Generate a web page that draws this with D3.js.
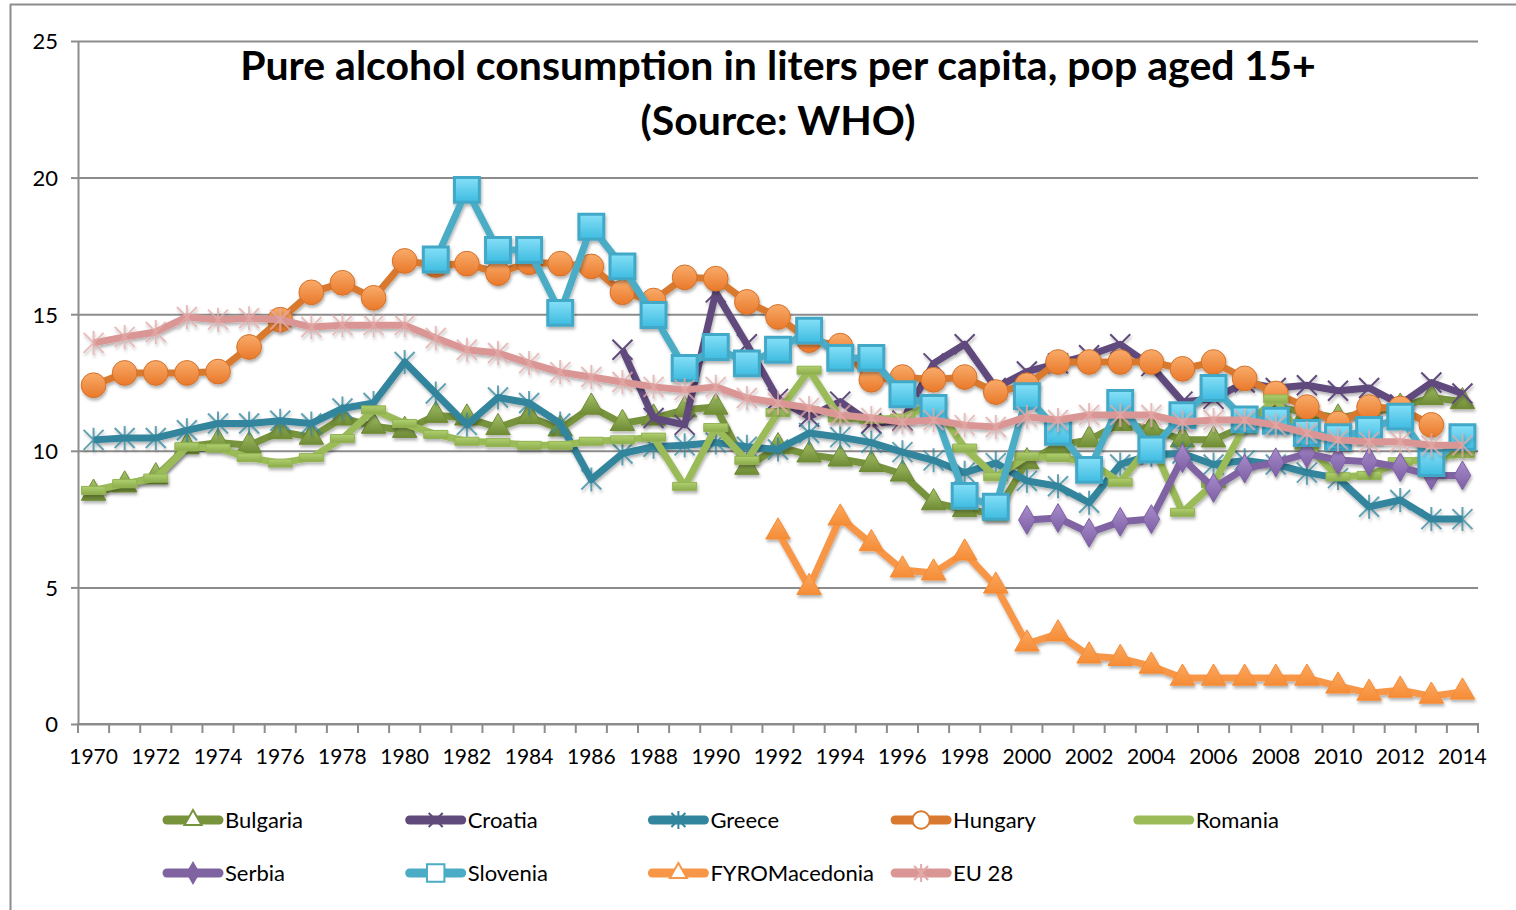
<!DOCTYPE html>
<html>
<head>
<meta charset="utf-8">
<script src="https://cdn.jsdelivr.net/npm/d3@7"></script>
<style>
body { margin: 0; background: #fff; }
text { font-family: Lato, "Open Sans", sans-serif; fill: #000; }
</style>
</head>
<body>
<script>
// data (1970..2014, null = no value)
var years = d3.range(1970, 2015);

var bulgaria = [8.45, 8.75, 9.05, 10.15, 10.3, 10.2, 10.7, 10.5, 11.2, 10.9,
  10.75, 11.3, 11.2, 10.85, 11.25, 10.8, 11.6, 11.0, 11.2, 11.5,
  11.6, 9.4, 10.15, 9.85, 9.7, 9.5, 9.15, 8.1, 7.85, 7.7,
  9.6, 10.2, 10.4, 11.0, 10.8, 10.4, 10.4, 10.9, 11.6, 11.4,
  11.2, 11.4, 11.6, 11.95, 11.8];
var croatia = [null, null, null, null, null, null, null, null, null, null,
  null, null, null, null, null, null, null, 13.7, 11.2, 10.95,
  15.8, 13.9, 11.9, 11.25, 11.8, 11.0, 11.1, 13.2, 13.9, 12.3,
  12.9, 13.2, 13.5, 13.9, 13.1, 11.8, 11.9, 12.5, 12.3, 12.4,
  12.2, 12.3, 11.7, 12.5, 12.1];
var greece = [10.4, 10.47, 10.47, 10.75, 11.0, 11.0, 11.1, 11.0, 11.55, 11.75,
  13.25, 12.1, 10.95, 11.95, 11.75, 11.0, 8.95, 9.9, 10.15, 10.2,
  10.3, 10.15, 10.05, 10.65, 10.5, 10.3, 9.95, 9.65, 9.2, 9.55,
  8.9, 8.7, 8.1, 9.5, 9.85, 9.9, 9.5, 9.65, 9.5, 9.2,
  9.0, 7.95, 8.2, 7.5, 7.5];
var hungary = [12.4, 12.85, 12.85, 12.85, 12.9, 13.8, 14.8, 15.8, 16.15, 15.6,
  16.95, 16.8, 16.85, 16.5, 16.9, 16.85, 16.75, 15.8, 15.5, 16.35,
  16.3, 15.45, 14.9, 14.05, 13.85, 12.6, 12.7, 12.6, 12.7, 12.15,
  12.4, 13.25, 13.25, 13.25, 13.25, 13.0, 13.25, 12.65, 12.1, 11.6,
  11.0, 11.6, 11.55, 10.95, null];
var romania = [8.55, 8.8, 9.0, 10.15, 10.1, 9.75, 9.55, 9.75, 10.45, 11.5,
  11.0, 10.6, 10.35, 10.3, 10.2, 10.2, 10.35, 10.4, 10.5, 8.7,
  10.85, 9.65, 11.4, 12.95, 11.2, 11.15, 11.2, 11.75, 10.1, 9.05,
  9.8, 9.75, 9.6, 8.85, 10.3, 7.75, 8.8, 10.9, 11.9, 10.2,
  9.05, 9.1, 9.6, 9.7, 9.9];
var serbia = [null, null, null, null, null, null, null, null, null, null,
  null, null, null, null, null, null, null, null, null, null,
  null, null, null, null, null, null, null, null, null, null,
  7.47, 7.54, 7.0, 7.4, 7.5, 9.73, 8.64, 9.35, 9.58, 9.9,
  9.66, 9.6, 9.4, 9.1, 9.1];
var slovenia = [null, null, null, null, null, null, null, null, null, null,
  null, 17.0, 19.55, 17.35, 17.35, 15.05, 18.2, 16.75, 14.97, 13.03,
  13.8, 13.2, 13.7, 14.4, 13.4, 13.4, 12.07, 11.57, 8.35, 7.95,
  12.0, 10.7, 9.3, 11.75, 10.05, 11.3, 12.3, 11.15, 11.1, 10.65,
  10.5, 10.76, 11.25, 9.55, 10.5];
var fyroMacedonia = [null, null, null, null, null, null, null, null, null, null,
  null, null, null, null, null, null, null, null, null, null,
  null, null, 7.03, 5.0, 7.54, 6.6, 5.64, 5.53, 6.26, 5.05,
  2.93, 3.3, 2.49, 2.4, 2.12, 1.68, 1.68, 1.68, 1.68, 1.68,
  1.39, 1.13, 1.24, 1.02, 1.17];
var eu28 = [13.95, 14.17, 14.35, 14.9, 14.8, 14.85, 14.8, 14.53, 14.6, 14.6,
  14.6, 14.13, 13.7, 13.58, 13.21, 12.88, 12.7, 12.52, 12.34, 12.23,
  12.34, 11.93, 11.75, 11.57, 11.31, 11.2, 11.05, 11.13, 10.94, 10.87,
  11.25, 11.13, 11.31, 11.31, 11.31, 11.05, 11.13, 11.13, 10.94, 10.65,
  10.4, 10.33, 10.33, 10.2, 10.2];

var seriesNames = ["Bulgaria", "Croatia", "Greece", "Hungary", "Romania",
  "Serbia", "Slovenia", "FYROMacedonia", "EU 28"];
var yTicks = [0, 5, 10, 15, 20, 25];
var xLabels = years.filter(function(d) { return d % 2 === 0; });
var titleLines = ["Pure alcohol consumption in liters per capita, pop aged 15+",
  "(Source: WHO)"];

var w = 1516, h = 910;
var plotLeft = 78, plotRight = 1478, plotTop = 41, plotBottom = 724;

var series = [
  { values: bulgaria, color: "#77933c", mark: "triangle", g: ["#a6c46a", "#6f8b35"], stroke: "#6f8b35" },
  { values: croatia, color: "#604a7b", mark: "x", stroke: "#604a7b" },
  { values: greece, color: "#31859c", mark: "star", stroke: "#31859c" },
  { values: hungary, color: "#d8792f", mark: "circle", g: ["#f9ab6a", "#e9792a"], stroke: "#d4712a" },
  { values: romania, color: "#9bbb59", mark: "dash", g: ["#b0d070", "#8cac4c"], stroke: "#92b352" },
  { values: serbia, color: "#8064a2", mark: "diamond", g: ["#a78ccb", "#7d5fa4"], stroke: "#7d5fa4" },
  { values: slovenia, color: "#4bacc6", mark: "square", g: ["#86e0f8", "#3dbbe0"], stroke: "#43a8c8" },
  { values: fyroMacedonia, color: "#f79646", mark: "triangle", g: ["#fba85f", "#f58c36"], stroke: "#f58c36" },
  { values: eu28, color: "#d99694", mark: "star", stroke: "#e2a9a8" }
];
series.forEach(function(s, i) { s.name = seriesNames[i]; s.id = "s" + i; });

var svg = d3.select("body").append("svg")
  .attr("width", w)
  .attr("height", h);

var defs = svg.append("defs");
var f = defs.append("filter").attr("id", "shadow")
  .attr("x", "-20%").attr("y", "-20%").attr("width", "140%").attr("height", "140%");
f.append("feDropShadow")
  .attr("dx", 1).attr("dy", 2.5).attr("stdDeviation", 1.6)
  .attr("flood-color", "#000").attr("flood-opacity", 0.3);

series.forEach(function(s) {
  if (!s.g) return;
  var lg = defs.append("linearGradient").attr("id", "grad" + s.id)
    .attr("x1", 0).attr("y1", 0).attr("x2", 0).attr("y2", 1);
  lg.append("stop").attr("offset", "0%").attr("stop-color", s.g[0]);
  lg.append("stop").attr("offset", "100%").attr("stop-color", s.g[1]);
});

// frame
svg.append("line").attr("x1", 10).attr("x2", w).attr("y1", 4.5).attr("y2", 4.5)
  .attr("stroke", "#8c8c8c").attr("stroke-width", 2);
svg.append("line").attr("x1", 10.5).attr("x2", 10.5).attr("y1", 4).attr("y2", h)
  .attr("stroke", "#8c8c8c").attr("stroke-width", 2);

var x = d3.scaleBand().domain(years).range([plotLeft, plotRight]);
var y = d3.scaleLinear().domain([0, 25]).range([plotBottom, plotTop]);
var bw = x.bandwidth();

// gridlines
svg.append("g")
  .attr("transform", "translate(" + plotLeft + ",0)")
  .call(d3.axisLeft(y).tickValues(yTicks).tickSize(-(plotRight - plotLeft)).tickFormat(""))
  .call(function(g) {
    g.select(".domain").remove();
    g.selectAll("line").attr("stroke", "#8c8c8c").attr("stroke-width", 2);
  });

// y axis
svg.append("g")
  .attr("transform", "translate(" + plotLeft + ",0)")
  .call(d3.axisLeft(y).tickValues(yTicks).tickSize(7).tickPadding(13).tickSizeOuter(0))
  .call(function(g) {
    g.select(".domain").attr("stroke", "#8c8c8c").attr("stroke-width", 2);
    g.selectAll("line").attr("stroke", "#8c8c8c").attr("stroke-width", 2);
    g.selectAll("text").attr("font-size", 22).attr("font-family", "Lato, sans-serif")
      .attr("fill", "#000").attr("dy", "0.36em");
  });

// x axis: ticks between categories, labels every other year
var xa = svg.append("g").attr("transform", "translate(0," + plotBottom + ")");
xa.append("line").attr("x1", plotLeft - 1).attr("x2", plotRight + 1)
  .attr("stroke", "#8c8c8c").attr("stroke-width", 2);
xa.selectAll("line.tick")
  .data(years.concat([null]))
  .enter()
  .append("line")
  .attr("class", "tick")
  .attr("x1", function(d) { return d === null ? plotRight : x(d); })
  .attr("x2", function(d) { return d === null ? plotRight : x(d); })
  .attr("y1", 0).attr("y2", 9)
  .attr("stroke", "#8c8c8c").attr("stroke-width", 2);
svg.append("g")
  .attr("transform", "translate(0," + plotBottom + ")")
  .call(d3.axisBottom(x).tickValues(xLabels).tickSize(0).tickPadding(25))
  .call(function(g) {
    g.select(".domain").remove();
    g.selectAll("text").attr("font-size", 21).attr("font-family", "Lato, sans-serif")
      .attr("fill", "#000");
  });

// title
svg.append("g").selectAll("text")
  .data(titleLines)
  .enter()
  .append("text")
  .attr("x", 778)
  .attr("y", function(d, i) { return 80 + i * 55; })
  .attr("text-anchor", "middle")
  .attr("font-size", 41)
  .attr("font-weight", "bold")
  .text(function(d) { return d; });

function markPath(type, k) {
  k = k || 1;
  if (type === "triangle") return d3.symbol(d3.symbolTriangle, 260 * k * k)();
  if (type === "circle") return d3.symbol(d3.symbolCircle, 480 * k * k)();
  if (type === "square") return d3.symbol(d3.symbolSquare, 620 * k * k)();
  if (type === "diamond") return d3.symbol(d3.symbolDiamond, 240 * k * k)();
  if (type === "dash") return "M" + (-12 * k) + "," + (-4 * k) + "h" + (24 * k) + "v" + (8 * k) + "h" + (-24 * k) + "Z";
  var a = 10 * k;
  var p = "M" + -a + "," + -a + "L" + a + "," + a + "M" + a + "," + -a + "L" + -a + "," + a;
  if (type === "star") p += "M0," + (-a - 2) + "V" + (a + 2);
  return p;
}

var line = d3.line()
  .defined(function(d) { return d !== null; })
  .x(function(d, i) { return x(years[i]) + bw / 2; })
  .y(function(d) { return y(d); });

series.forEach(function(s) {
  var g = svg.append("g").attr("filter", "url(#shadow)");
  g.append("path")
    .datum(s.values)
    .attr("d", line)
    .attr("fill", "none")
    .attr("stroke", s.color)
    .attr("stroke-width", 7)
    .attr("stroke-linejoin", "round");

  var pts = s.values.map(function(v, i) { return { year: years[i], v: v }; })
    .filter(function(d) { return d.v !== null; });
  var stroked = s.mark === "x" || s.mark === "star";
  g.selectAll("path.mk")
    .data(pts)
    .enter()
    .append("path")
    .attr("class", "mk")
    .attr("transform", function(d) {
      return "translate(" + (x(d.year) + bw / 2) + "," + y(d.v) + ")";
    })
    .attr("d", markPath(s.mark))
    .attr("fill", stroked ? "none" : "url(#grad" + s.id + ")")
    .attr("stroke", s.stroke)
    .attr("stroke-width", s.mark === "square" ? 3 : (stroked ? 2 : 1))
    .attr("opacity", s.mark === "star" ? 0.75 : 1);
});

// legend
var legend = svg.append("g");
series.forEach(function(s, i) {
  var lx = 163 + (i % 5) * 242.7;
  var ly = 820 + Math.floor(i / 5) * 53;
  var lg = legend.append("g").attr("transform", "translate(" + lx + "," + ly + ")");
  lg.append("line")
    .attr("x1", 4).attr("x2", 56)
    .attr("stroke", s.color)
    .attr("stroke-width", 9)
    .attr("stroke-linecap", "round");
  if (s.mark !== "dash") {
    var stroked = s.mark === "x" || s.mark === "star";
    lg.append("path")
      .attr("transform", "translate(30,0)")
      .attr("d", markPath(s.mark, 0.7))
      .attr("fill", s.mark === "diamond" ? s.color : (stroked ? "none" : "#fff"))
      .attr("stroke", s.mark === "star" || s.mark === "x" ? s.stroke : s.color)
      .attr("stroke-width", 2);
  }
  lg.append("text")
    .attr("x", 62)
    .attr("y", 8)
    .attr("font-size", 22)
    .text(s.name);
});
</script>
</body>
</html>
